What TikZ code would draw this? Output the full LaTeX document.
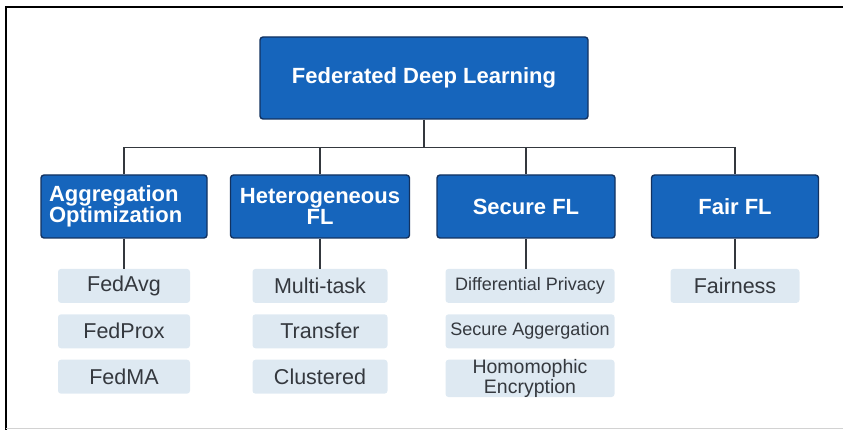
\documentclass[tikz,border=0pt]{standalone}
\usepackage{fontspec}
\setmainfont{Liberation Sans}
\usetikzlibrary{positioning}
\definecolor{fdlBlue}{RGB}{22, 101, 188}
\definecolor{fdlEdge}{RGB}{18, 50, 96}
\definecolor{fdlLeaf}{RGB}{222, 233, 242}
\definecolor{fdlText}{RGB}{52, 56, 62}

\begin{document}
\begin{tikzpicture}[x=1pt, y=-1pt,
  head/.style={draw=fdlEdge, line width=1.4pt, fill=fdlBlue, rounded corners=3pt,
    text=white, font=\fontsize{22}{21}\selectfont\bfseries, align=center, inner sep=0pt},
  leaf/.style={fill=fdlLeaf, rounded corners=3pt, text=fdlText, align=center, inner sep=0pt,
    minimum height=34pt, font=\fontsize{21.5}{20}\selectfont},
  small/.style={font=\fontsize{18}{17}\selectfont},
  link/.style={draw=fdlText, line width=1.6pt}]
  \useasboundingbox (0,0) rectangle (843,430);
  % frame
  \draw[black, line width=2pt] (6,430) -- (6,7) -- (843,7);
  \draw[gray!35, line width=1pt] (6,428) -- (843,428);

  % root and categories
  \node[head, minimum width=328pt, minimum height=82pt] (root) at (424,78) {Federated Deep Learning};
  \node[head, minimum width=166pt, minimum height=63pt, text width=150pt, align=left] (agg) at (124,206.5) {Aggregation\\Optimization};
  \node[head, minimum width=179pt, minimum height=63pt] (het) at (320,206.5) {Heterogeneous\\FL};
  \node[head, minimum width=178pt, minimum height=63pt] (sec) at (526,206.5) {Secure FL};
  \node[head, minimum width=167pt, minimum height=63pt] (fair) at (735,206.5) {Fair FL};

  % leaves
  \node[leaf, minimum width=132pt, below=30pt of agg] (avg) {FedAvg};
  \node[leaf, minimum width=132pt, below=11pt of avg] (prox) {FedProx};
  \node[leaf, minimum width=132pt, below=11pt of prox] (ma) {FedMA};
  \node[leaf, minimum width=135pt, below=30pt of het] (multi) {Multi-task};
  \node[leaf, minimum width=135pt, below=11pt of multi] (trans) {Transfer};
  \node[leaf, minimum width=135pt, below=11pt of trans] (clus) {Clustered};
  \node[leaf, small, minimum width=169pt, below=30pt of sec, xshift=4pt] (dp) {Differential Privacy};
  \node[leaf, small, minimum width=169pt, below=11pt of dp] (sagg) {Secure Aggergation};
  \node[leaf, minimum width=169pt, minimum height=35pt, below=11pt of sagg,
    font=\fontsize{19.5}{17.5}\selectfont] (he) {Homomophic\\Encryption};
  \node[leaf, minimum width=129pt, below=30pt of fair] (fness) {Fairness};

  % connectors
  \draw[link] (root.south) -- ++(0,28) coordinate (bus);
  \draw[link] (agg.north) |- (bus) -| (fair.north);
  \draw[link] (het.north) -- (het.north |- bus);
  \draw[link] (sec.north) -- (sec.north |- bus);
  \draw[link] (agg.south) -- (agg.south |- avg.north);
  \draw[link] (het.south) -- (multi.north);
  \draw[link] (sec.south) -- (sec.south |- dp.north);
  \draw[link] (fair.south) -- (fness.north);
\end{tikzpicture}
\end{document}
